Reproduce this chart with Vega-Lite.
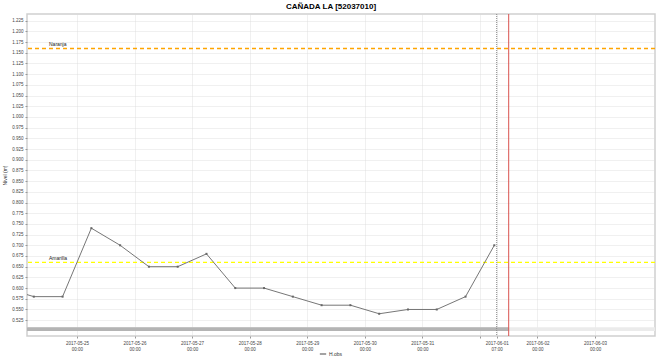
{
  "$schema": "https://vega.github.io/schema/vega-lite/v6.json",
  "width": 628,
  "height": 322,
  "autosize": {"type": "none"},
  "padding": {"left": 27, "top": 14, "right": 1, "bottom": 24},
  "background": "white",
  "config": {
    "font": "Liberation Sans",
    "view": {"stroke": "#cfcfcf", "strokeWidth": 1.5},
    "axis": {"labelFont": "Liberation Sans", "titleFont": "Liberation Sans"}
  },
  "title": {
    "text": "CAÑADA LA [52037010]",
    "fontSize": 8,
    "fontWeight": "bold",
    "color": "#000",
    "anchor": "middle",
    "dx": -10,
    "offset": 3
  },
  "datasets": {
    "obs": [
      {"t": "2017-05-23T18:00:00", "v": 0.60, "s": "H.obs"},
      {"t": "2017-05-24T06:00:00", "v": 0.58, "s": "H.obs"},
      {"t": "2017-05-24T18:00:00", "v": 0.58, "s": "H.obs"},
      {"t": "2017-05-25T06:00:00", "v": 0.74, "s": "H.obs"},
      {"t": "2017-05-25T18:00:00", "v": 0.70, "s": "H.obs"},
      {"t": "2017-05-26T06:00:00", "v": 0.65, "s": "H.obs"},
      {"t": "2017-05-26T18:00:00", "v": 0.65, "s": "H.obs"},
      {"t": "2017-05-27T06:00:00", "v": 0.68, "s": "H.obs"},
      {"t": "2017-05-27T18:00:00", "v": 0.60, "s": "H.obs"},
      {"t": "2017-05-28T06:00:00", "v": 0.60, "s": "H.obs"},
      {"t": "2017-05-28T18:00:00", "v": 0.58, "s": "H.obs"},
      {"t": "2017-05-29T06:00:00", "v": 0.56, "s": "H.obs"},
      {"t": "2017-05-29T18:00:00", "v": 0.56, "s": "H.obs"},
      {"t": "2017-05-30T06:00:00", "v": 0.54, "s": "H.obs"},
      {"t": "2017-05-30T18:00:00", "v": 0.55, "s": "H.obs"},
      {"t": "2017-05-31T06:00:00", "v": 0.55, "s": "H.obs"},
      {"t": "2017-05-31T18:00:00", "v": 0.58, "s": "H.obs"},
      {"t": "2017-06-01T06:00:00", "v": 0.70, "s": "H.obs"}
    ],
    "naranja": [{"name": "Naranja", "v": 1.16, "tl": "2017-05-24T12:20:00"}],
    "amarilla": [{"name": "Amarilla", "v": 0.66, "tl": "2017-05-24T12:20:00"}],
    "track": [{"a": "2017-05-24T03:10:00", "b": "2017-06-04T01:00:00", "lo": 0.4995, "hi": 0.5085}],
    "avail": [{"a": "2017-05-24T03:10:00", "b": "2017-06-01T12:00:00", "lo": 0.4995, "hi": 0.5085}],
    "now": [{"t": "2017-06-01T07:00:00"}],
    "fcst": [{"t": "2017-06-01T12:00:00"}]
  },
  "layer": [
    {
      "data": {"name": "track"},
      "mark": {"type": "rect", "clip": true, "color": "#ebebeb"},
      "encoding": {
        "x": {"field": "a", "type": "temporal"},
        "x2": {"field": "b"},
        "y": {"field": "lo", "type": "quantitative"},
        "y2": {"field": "hi"}
      }
    },
    {
      "data": {"name": "avail"},
      "mark": {"type": "rect", "clip": true, "color": "#b4b4b4"},
      "encoding": {
        "x": {"field": "a", "type": "temporal"},
        "x2": {"field": "b"},
        "y": {"field": "lo", "type": "quantitative"},
        "y2": {"field": "hi"}
      }
    },
    {
      "data": {"name": "naranja"},
      "mark": {"type": "rule", "strokeDash": [4, 3], "strokeWidth": 1.3, "color": "#FFA500"},
      "encoding": {"y": {"field": "v", "type": "quantitative"}}
    },
    {
      "data": {"name": "amarilla"},
      "mark": {"type": "rule", "strokeDash": [4, 3], "strokeWidth": 1.3, "color": "#FFFF00"},
      "encoding": {"y": {"field": "v", "type": "quantitative"}}
    },
    {
      "data": {"name": "naranja"},
      "mark": {"type": "text", "fontSize": 5, "align": "left", "baseline": "bottom", "dy": -1, "color": "#222"},
      "encoding": {
        "x": {"field": "tl", "type": "temporal"},
        "y": {"field": "v", "type": "quantitative"},
        "text": {"field": "name"}
      }
    },
    {
      "data": {"name": "amarilla"},
      "mark": {"type": "text", "fontSize": 5, "align": "left", "baseline": "bottom", "dy": -1, "color": "#222"},
      "encoding": {
        "x": {"field": "tl", "type": "temporal"},
        "y": {"field": "v", "type": "quantitative"},
        "text": {"field": "name"}
      }
    },
    {
      "data": {"name": "now"},
      "mark": {"type": "rule", "color": "#888", "strokeDash": [1, 1], "strokeWidth": 1},
      "encoding": {"x": {"field": "t", "type": "temporal"}}
    },
    {
      "data": {"name": "fcst"},
      "mark": {"type": "rule", "color": "#d9534f", "strokeWidth": 1},
      "encoding": {"x": {"field": "t", "type": "temporal"}}
    },
    {
      "data": {"name": "obs"},
      "mark": {"type": "line", "clip": true, "strokeWidth": 0.9, "point": {"shape": "square", "size": 4, "filled": true, "color": "#444"}},
      "encoding": {
        "x": {
          "field": "t",
          "type": "temporal",
          "scale": {"domain": ["2017-05-24T03:10:00", "2017-06-04T01:00:00"]},
          "axis": {
            "title": null,
            "tickCount": 40,
            "values": ["2017-05-25T00:00:00", "2017-05-26T00:00:00", "2017-05-27T00:00:00", "2017-05-28T00:00:00", "2017-05-29T00:00:00", "2017-05-30T00:00:00", "2017-05-31T00:00:00", "2017-06-01T00:00:00", "2017-06-01T07:00:00", "2017-06-02T00:00:00", "2017-06-03T00:00:00"],
            "labelExpr": "timeFormat(datum.value, '%Y-%m-%d %H') == '2017-06-01 00' ? '' : [timeFormat(datum.value, '%Y-%m-%d'), timeFormat(datum.value, '%H:%M')]",
            "labelOverlap": false,
            "labelFontSize": 4.5,
            "labelColor": "#444",
            "labelLineHeight": 6,
            "labelPadding": 2,
            "tickSize": 2,
            "tickColor": "#999",
            "domain": false,
            "grid": true,
            "gridColor": "#d8d8d8",
            "gridDash": [1, 1],
            "gridWidth": 0.8
          }
        },
        "y": {
          "field": "v",
          "type": "quantitative",
          "scale": {"domain": [0.488, 1.2406], "nice": false, "zero": false},
          "axis": {
            "title": "Nivel (m)",
            "titleFontSize": 5,
            "titleFontWeight": "normal",
            "titleColor": "#333",
            "titlePadding": 4,
            "tickCount": 60,
            "values": [0.525, 0.55, 0.575, 0.6, 0.625, 0.65, 0.675, 0.7, 0.725, 0.75, 0.775, 0.8, 0.825, 0.85, 0.875, 0.9, 0.925, 0.95, 0.975, 1.0, 1.025, 1.05, 1.075, 1.1, 1.125, 1.15, 1.175, 1.2, 1.225],
            "format": ".3f",
            "labelOverlap": false,
            "labelBound": false,
            "labelFontSize": 4.5,
            "labelColor": "#444",
            "labelPadding": 2,
            "tickSize": 2,
            "tickColor": "#999",
            "domain": false,
            "grid": true,
            "gridColor": "#d8d8d8",
            "gridDash": [1, 1],
            "gridWidth": 0.8
          }
        },
        "color": {
          "field": "s",
          "type": "nominal",
          "scale": {"domain": ["H.obs"], "range": ["#666666"]},
          "legend": {
            "title": null,
            "orient": "none",
            "legendX": 292,
            "legendY": 336,
            "symbolType": "stroke",
            "symbolSize": 40,
            "symbolStrokeWidth": 1.2,
            "labelFontSize": 5,
            "labelColor": "#333",
            "labelOffset": 2
          }
        }
      }
    }
  ]
}
